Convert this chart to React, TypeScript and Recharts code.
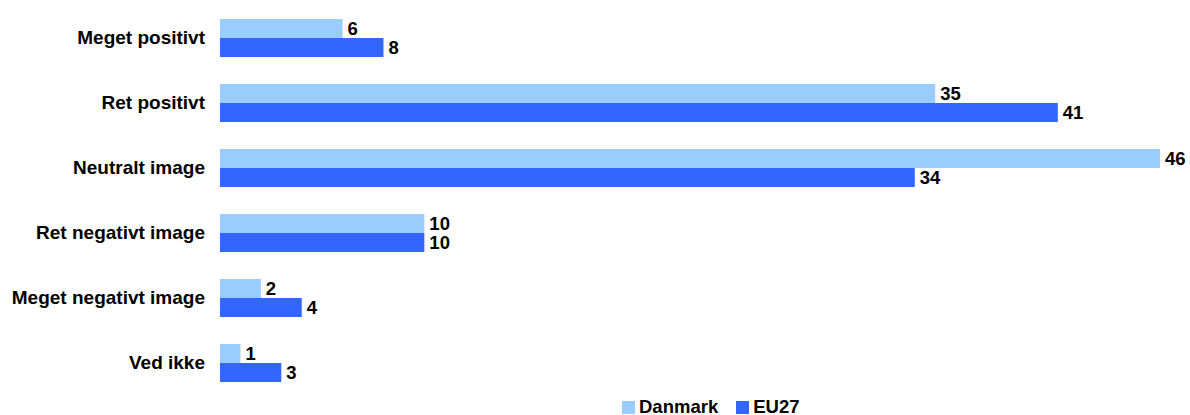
import React from 'react';
import { BarChart, Bar, XAxis, YAxis, LabelList } from 'recharts';

const categories = [
  'Meget positivt',
  'Ret positivt',
  'Neutralt image',
  'Ret negativt image',
  'Meget negativt image',
  'Ved ikke',
];
const danmark = [6, 35, 46, 10, 2, 1];
const eu27 = [8, 41, 34, 10, 4, 3];

const seriesNames = ['Danmark', 'EU27'];
const colors = ['#99CCFF', '#3366FF'];

const FONT = '"Liberation Sans", Arial, sans-serif';

const data = categories.map((name, i) => ({
  name,
  Danmark: danmark[i],
  EU27: eu27[i],
}));

function LegendBox() {
  return (
    <div
      style={{
        position: 'absolute',
        left: 622,
        top: 397,
        display: 'flex',
        alignItems: 'center',
        fontFamily: FONT,
        fontWeight: 'bold',
        fontSize: 18.5,
        color: '#000',
        lineHeight: '20px',
      }}
    >
      {seriesNames.map((s, i) => (
        <div key={s} style={{ display: 'flex', alignItems: 'center', marginRight: i === 0 ? 18 : 0 }}>
          <span
            style={{
              display: 'inline-block',
              width: 13,
              height: 13,
              background: colors[i],
              marginRight: 4,
            }}
          />
          <span>{s}</span>
        </div>
      ))}
    </div>
  );
}

export default function App() {
  return (
    <div style={{ position: 'absolute', left: 0, top: 0, width: 1190, height: 415, background: '#fff' }}>
      <BarChart
        width={1190}
        height={415}
        data={data}
        layout="vertical"
        margin={{ top: 5, right: 30, bottom: 20, left: 0 }}
        barSize={19}
        barGap={0}
      >
        <XAxis type="number" domain={[0, 46]} hide />
        <YAxis
          type="category"
          dataKey="name"
          width={220}
          axisLine={false}
          tickLine={false}
          tickSize={0}
          tickMargin={15}
          interval={0}
          tick={{ fontSize: 19, fontWeight: 'bold', fill: '#000', fontFamily: FONT }}
        />
        {seriesNames.map((s, i) => (
          <Bar key={s} dataKey={s} fill={colors[i]} isAnimationActive={false}>
            <LabelList
              dataKey={s}
              position="right"
              offset={5}
              style={{ fontSize: 18.5, fontWeight: 'bold', fill: '#000', fontFamily: FONT }}
            />
          </Bar>
        ))}
      </BarChart>
      <LegendBox />
    </div>
  );
}
